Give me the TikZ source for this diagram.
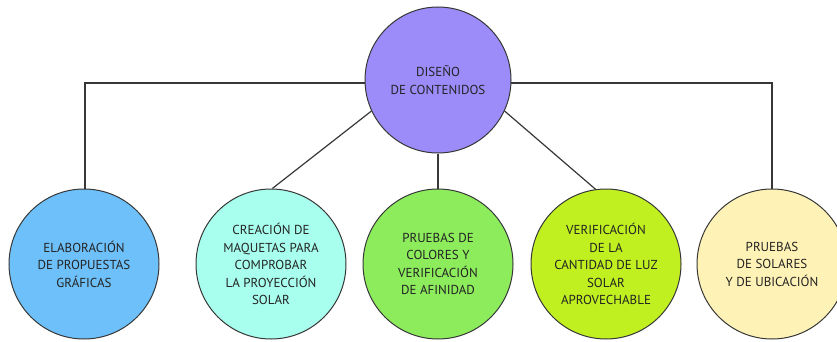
\documentclass[tikz,border=0pt]{standalone}
\usepackage{fontspec}
\setmainfont{PT Sans}
\definecolor{cTop}{RGB}{155,140,250}
\definecolor{cA}{RGB}{110,192,250}
\definecolor{cB}{RGB}{168,255,238}
\definecolor{cC}{RGB}{140,236,92}
\definecolor{cD}{RGB}{192,240,32}
\definecolor{cE}{RGB}{255,242,182}
\definecolor{txt}{RGB}{35,35,35}
\definecolor{ln}{RGB}{55,55,55}
\tikzset{
  bub/.style={circle, draw=ln, line width=1pt, minimum size=150pt, inner sep=0pt,
    align=center, text=txt, font=\fontsize{13}{17.5}\selectfont},
  topbub/.style={bub, minimum size=146pt},
  conn/.style={draw=ln, line width=1.2pt}
}
\begin{document}
\begin{tikzpicture}[x=1pt,y=-1pt]
\useasboundingbox (0,0) rectangle (837,342);
\coordinate (hl) at (85,83);
\coordinate (hr) at (772,83);
\draw[conn] (85,190) -- (hl) -- (hr) -- (772,190);
\node[topbub, fill=cTop] (top) at (438,80) {DISEÑO\\DE CONTENIDOS};
\node[bub, fill=cA] (a) at (84,264) {ELABORACIÓN\\DE PROPUESTAS\\GRÁFICAS};
\node[bub, fill=cB] (b) at (271,264) {CREACIÓN DE\\MAQUETAS PARA\\COMPROBAR\\LA PROYECCIÓN\\SOLAR};
\node[bub, fill=cC] (c) at (438,264) {PRUEBAS DE\\COLORES Y\\VERIFICACIÓN\\DE AFINIDAD};
\node[bub, fill=cD] (d) at (606,264) {VERIFICACIÓN\\DE LA\\CANTIDAD DE LUZ\\SOLAR\\APROVECHABLE};
\node[bub, fill=cE] (e) at (772,264) {PRUEBAS\\DE SOLARES\\Y DE UBICACIÓN};
\draw[conn] (top.south) -- (c.north);
\draw[conn] (top.205) -- (b.89);
\draw[conn] (top.-25) -- (d.98);
\end{tikzpicture}
\end{document}
